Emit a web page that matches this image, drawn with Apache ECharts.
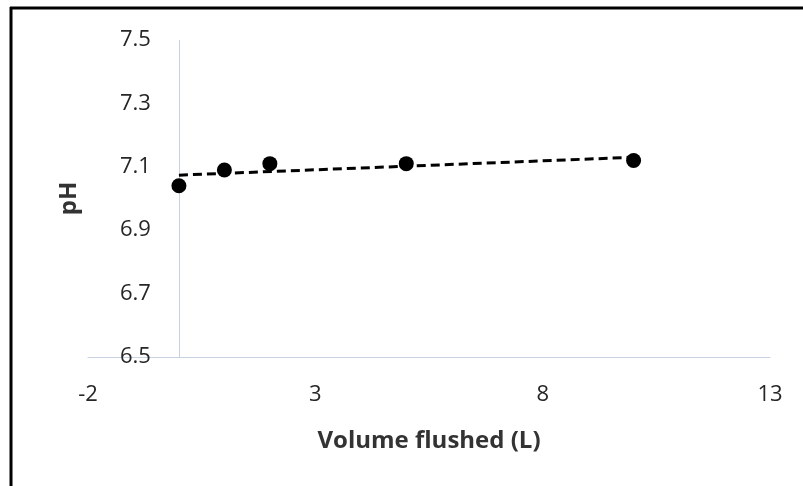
<!DOCTYPE html>
<html>
<head>
<meta charset="utf-8">
<script src="https://cdn.jsdelivr.net/npm/echarts@6/dist/echarts.min.js"></script>
<style>
  html, body { margin: 0; padding: 0; background: #fff; }
  #chart { width: 803px; height: 486px; }
</style>
</head>
<body>
<div id="chart"></div>
<script>
// Volume flushed (L) and measured pH
const volumeFlushed = [0, 1, 2, 5, 10];
const phValues = [7.04, 7.09, 7.11, 7.11, 7.12];

// Axis ranges
const xTicks = { min: -2, max: 13, interval: 5 };
const yTicks = { min: 6.5, max: 7.5, interval: 0.2 };

// Least-squares linear trendline over the measured points
function linearFit(xs, ys) {
  const n = xs.length;
  const mx = xs.reduce((a, b) => a + b, 0) / n;
  const my = ys.reduce((a, b) => a + b, 0) / n;
  let sxy = 0, sxx = 0;
  for (let i = 0; i < n; i++) {
    sxy += (xs[i] - mx) * (ys[i] - my);
    sxx += (xs[i] - mx) * (xs[i] - mx);
  }
  const slope = sxy / sxx;
  return { slope, intercept: my - slope * mx };
}
const fit = linearFit(volumeFlushed, phValues);
const xStart = Math.min(...volumeFlushed);
const xEnd = Math.max(...volumeFlushed);
const trendPoints = [
  [xStart, fit.intercept + fit.slope * xStart],
  [xEnd, fit.intercept + fit.slope * xEnd]
];

const points = volumeFlushed.map((v, i) => [v, phValues[i]]);

const FONT = '"Open Sans", "Liberation Sans", sans-serif';
const axisColor = '#c8d0e2';

const GRID_LEFT = 88;
const GRID_RIGHT = 33;
const plotWidth = 803 - GRID_LEFT - GRID_RIGHT;
// the vertical axis crosses at x = 0; its labels sit beside that crossing
const crossOffset = plotWidth * (0 - xTicks.min) / (xTicks.max - xTicks.min);

const chart = echarts.init(document.getElementById('chart'), null, { renderer: 'canvas' });
chart.setOption({
  animation: false,
  backgroundColor: '#ffffff',
  grid: { left: GRID_LEFT, right: GRID_RIGHT, top: 40, bottom: 129, containLabel: false, outerBoundsMode: 'none' },
  xAxis: {
    type: 'value',
    min: xTicks.min,
    max: xTicks.max,
    interval: xTicks.interval,
    name: 'Volume flushed (L)',
    nameLocation: 'middle',
    nameGap: 72,
    nameTextStyle: { fontFamily: FONT, fontSize: 24, fontWeight: 'bold', color: '#333333' },
    axisLine: { show: true, onZero: false, lineStyle: { color: axisColor, width: 1 } },
    axisTick: { show: false },
    splitLine: { show: false },
    axisLabel: { margin: 27, fontFamily: FONT, fontSize: 22, color: '#262626' }
  },
  yAxis: {
    type: 'value',
    min: yTicks.min,
    max: yTicks.max,
    interval: yTicks.interval,
    offset: -crossOffset,
    name: 'pH',
    nameLocation: 'middle',
    nameRotate: 90,
    nameGap: 98,
    nameTextStyle: { fontFamily: FONT, fontSize: 24, fontWeight: 'bold', color: '#333333' },
    axisLine: { show: false, onZero: false },
    axisTick: { show: false },
    splitLine: { show: false },
    axisLabel: {
      margin: 28,
      fontFamily: FONT,
      fontSize: 22,
      color: '#262626',
      formatter: v => v.toFixed(1)
    }
  },
  series: [
    {
      name: 'Linear fit',
      type: 'line',
      data: trendPoints,
      symbol: 'none',
      lineStyle: { color: '#000000', width: 3, type: [9, 5] },
      z: 3
    },
    {
      name: 'pH',
      type: 'scatter',
      data: points,
      symbol: 'circle',
      symbolSize: 15,
      itemStyle: { color: '#000000', opacity: 1 },
      z: 4,
      markLine: {
        silent: true,
        symbol: 'none',
        label: { show: false },
        lineStyle: { color: axisColor, width: 1, type: 'solid' },
        data: [{ xAxis: 0 }],
        z: 1
      }
    }
  ],
  graphic: [
    // frame along the top and left edges
    { type: 'line', shape: { x1: 10, y1: 8, x2: 803, y2: 8 }, style: { stroke: '#000', lineWidth: 3 } },
    { type: 'line', shape: { x1: 11, y1: 7, x2: 11, y2: 486 }, style: { stroke: '#000', lineWidth: 3 } }
  ]
});
</script>
</body>
</html>
